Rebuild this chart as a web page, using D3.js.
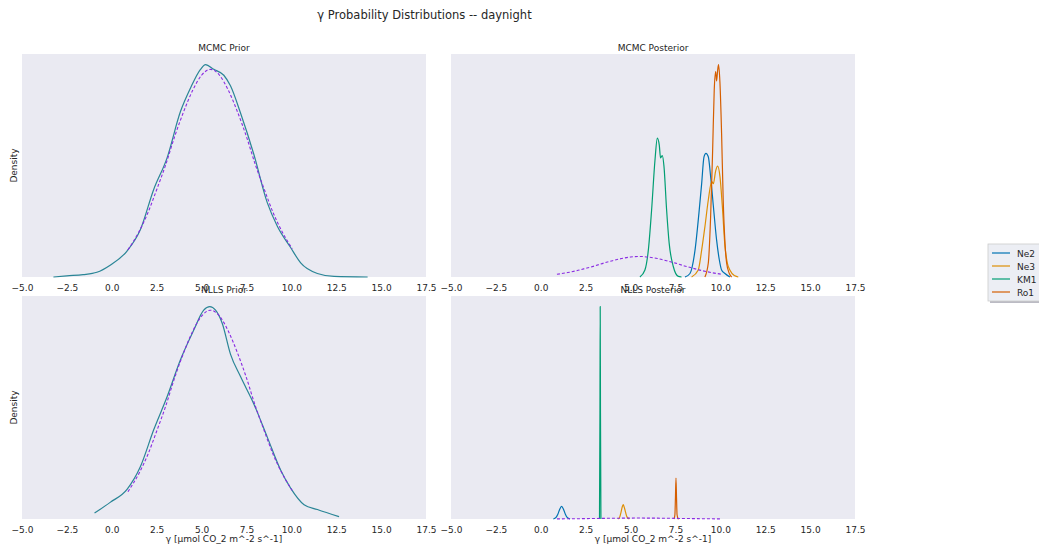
<!DOCTYPE html>
<html>
<head>
<meta charset="utf-8">
<script src="https://cdn.jsdelivr.net/npm/d3@7"></script>
<style>
body { margin: 0; background: #fff; }
text { font-family: "DejaVu Sans", sans-serif; fill: #262626; }
</style>
</head>
<body>
<div id="chart"></div>
<script>
var w = 1039, h = 548

var sites = ["Ne2", "Ne3", "KM1", "Ro1"]
var siteColors = ["#0173b2", "#de8f05", "#029e73", "#d55e00"]
var xTicks = [-5, -2.5, 0, 2.5, 5, 7.5, 10, 12.5, 15, 17.5]

// prior pdf (dashed), same in every panel
var priorPdfX = [0.9, 1.5, 2, 2.5, 3, 3.5, 4, 4.5, 5, 5.5, 6, 6.5, 7, 7.5, 8, 8.5, 9, 9.5, 10.05]
var priorPdfY = [0.023, 0.038, 0.054, 0.074, 0.095, 0.119, 0.140, 0.158, 0.171, 0.176, 0.171, 0.158, 0.140, 0.119, 0.095, 0.074, 0.054, 0.038, 0.024]

// MCMC prior samples kde
var mcmcPriorX = [-3.25, -2.5, -1.6, -0.83, -0.09, 0.85, 1.59, 2.33, 3.08, 3.82, 4.38, 4.94, 5.22, 5.68, 6.24, 6.61, 7.17, 7.91, 8.66, 9.22, 9.96, 10.52, 11.45, 12.38, 14.25]
var mcmcPriorY = [0, 0.001, 0.002, 0.004, 0.010, 0.022, 0.040, 0.074, 0.101, 0.140, 0.160, 0.176, 0.180, 0.176, 0.171, 0.162, 0.139, 0.104, 0.063, 0.043, 0.025, 0.012, 0.003, 0.0005, 0]

// NLLS prior samples kde
var nllsPriorX = [-0.96, -0.09, 0.85, 1.59, 2.33, 3.08, 3.82, 4.56, 5.12, 5.46, 5.78, 6.15, 6.61, 7.17, 7.91, 8.66, 9.41, 9.96, 10.71, 11.45, 12.66]
var nllsPriorY = [0.005, 0.014, 0.025, 0.044, 0.075, 0.103, 0.134, 0.159, 0.176, 0.179, 0.176, 0.165, 0.139, 0.120, 0.097, 0.069, 0.041, 0.026, 0.012, 0.008, 0.002]

// MCMC posterior kde per site
var mcmcNe2X = [8.03, 8.31, 8.59, 8.81, 8.96, 9.09, 9.20, 9.33, 9.46, 9.61, 9.79, 9.94, 10.07, 10.26, 10.53]
var mcmcNe2Y = [0, 0.03, 0.23, 0.55, 0.80, 1.03, 1.06, 1.03, 0.86, 0.61, 0.32, 0.15, 0.06, 0.03, 0]
var mcmcNe3X = [8.40, 8.77, 8.96, 9.14, 9.33, 9.52, 9.61, 9.74, 9.85, 9.98, 10.11, 10.26, 10.39, 10.53, 10.81, 11.0]
var mcmcNe3Y = [0, 0.06, 0.23, 0.43, 0.66, 0.82, 0.80, 0.91, 0.95, 0.86, 0.61, 0.26, 0.12, 0.06, 0.01, 0]
var mcmcKM1X = [5.52, 5.80, 5.99, 6.17, 6.36, 6.49, 6.60, 6.67, 6.77, 6.86, 7.01, 7.15, 7.38, 7.66, 7.84]
var mcmcKM1Y = [0, 0.06, 0.23, 0.57, 1.00, 1.19, 1.13, 1.02, 1.04, 0.95, 0.57, 0.29, 0.09, 0.005, 0]
var mcmcRo1X = [9.14, 9.33, 9.46, 9.57, 9.66, 9.74, 9.79, 9.85, 9.90, 9.98, 10.07, 10.16, 10.26, 10.35, 10.50, 10.63]
var mcmcRo1Y = [0, 0.12, 0.52, 1.08, 1.60, 1.76, 1.68, 1.77, 1.82, 1.66, 1.23, 0.66, 0.29, 0.12, 0.03, 0]

// NLLS posterior kde per site
var nllsNe2X = [0.70, 0.85, 0.95, 1.05, 1.16, 1.27, 1.37, 1.47, 1.63]
var nllsNe2Y = [0, 0.3, 0.9, 1.8, 2.37, 1.8, 0.9, 0.3, 0]
var nllsNe3X = [4.32, 4.40, 4.47, 4.53, 4.59, 4.65, 4.72, 4.80, 4.93]
var nllsNe3Y = [0, 0.4, 1.3, 2.2, 2.69, 2.2, 1.3, 0.4, 0]
var nllsKM1X = [3.27, 3.295, 3.31, 3.325, 3.35]
var nllsKM1Y = [0, 20, 40, 20, 0]
var nllsRo1X = [7.42, 7.47, 7.50, 7.53, 7.56, 7.59, 7.65, 7.68]
var nllsRo1Y = [0, 0.8, 4.0, 7.7, 4.0, 0.8, 0.05, 0]

function zipXY(xs, ys) {
	return xs.map(function(x, i) { return [x, ys[i]] })
}

var panels = [
	{title: "MCMC Prior", left: 22, top: 54, density: true, xlabel: false,
		lines: [{d: zipXY(mcmcPriorX, mcmcPriorY), c: "#2a8596"}]},
	{title: "MCMC Posterior", left: 451, top: 54, density: false, xlabel: false,
		lines: [{d: zipXY(mcmcNe2X, mcmcNe2Y), c: siteColors[0]}, {d: zipXY(mcmcNe3X, mcmcNe3Y), c: siteColors[1]},
			{d: zipXY(mcmcKM1X, mcmcKM1Y), c: siteColors[2]}, {d: zipXY(mcmcRo1X, mcmcRo1Y), c: siteColors[3]}]},
	{title: "NLLS Prior", left: 22, top: 296, density: true, xlabel: true,
		lines: [{d: zipXY(nllsPriorX, nllsPriorY), c: "#2a8596"}]},
	{title: "NLLS Posterior", left: 451, top: 296, density: false, xlabel: true,
		lines: [{d: zipXY(nllsNe2X, nllsNe2Y), c: siteColors[0]}, {d: zipXY(nllsNe3X, nllsNe3Y), c: siteColors[1]},
			{d: zipXY(nllsKM1X, nllsKM1Y), c: siteColors[2]}, {d: zipXY(nllsRo1X, nllsRo1Y), c: siteColors[3]}]}
]
var pw = 404, ph = 223

var svg = d3.select("#chart")
	.append("svg")
	.attr("width", w)
	.attr("height", h)

svg.append("text")
	.attr("x", 424.5)
	.attr("y", 19)
	.attr("text-anchor", "middle")
	.style("font-size", "11.5px")
	.text("γ Probability Distributions -- daynight")

var prior = zipXY(priorPdfX, priorPdfY)

panels.forEach(function(p) {
	var g = svg.append("g").attr("transform", "translate(" + p.left + "," + p.top + ")")

	var x = d3.scaleLinear().domain([-5, 17.5]).range([0, pw])
	var ymax = d3.max(p.lines, function(l) { return d3.max(l.d, function(d) { return d[1] }) })
	var y = d3.scaleLinear().domain([0, ymax * 1.05]).range([ph, 0])

	g.append("rect")
		.attr("width", pw)
		.attr("height", ph)
		.attr("fill", "#eaeaf2")

	var line = d3.line()
		.curve(d3.curveMonotoneX)
		.x(function(d) { return x(d[0]) })
		.y(function(d) { return y(d[1]) })

	g.selectAll(".kde")
		.data(p.lines)
		.enter()
		.append("path")
		.attr("d", function(l) { return line(l.d) })
		.attr("fill", "none")
		.attr("stroke", function(l) { return l.c })
		.attr("stroke-width", 1.2)

	g.append("path")
		.attr("d", line(prior))
		.attr("fill", "none")
		.attr("stroke", "#8a2be2")
		.attr("stroke-width", 1.1)
		.attr("stroke-dasharray", "3,2")

	var xAxis = d3.axisBottom(x)
		.tickValues(xTicks)
		.tickSize(0)
		.tickPadding(8)
		.tickFormat(function(d) { return d3.format(".1f")(d).replace("-", "−") })

	var ax = g.append("g")
		.attr("transform", "translate(0," + ph + ")")
		.call(xAxis)
	ax.select(".domain").remove()
	ax.selectAll("text")
		.style("font-size", "9px")
		.style("font-family", "DejaVu Sans, sans-serif")
		.attr("fill", "#262626")

	g.append("text")
		.attr("x", pw / 2)
		.attr("y", -3.5)
		.attr("text-anchor", "middle")
		.style("font-size", "9px")
		.text(p.title)

	if (p.density) {
		g.append("text")
			.attr("transform", "translate(-5," + (ph / 2) + ") rotate(-90)")
			.attr("text-anchor", "middle")
			.style("font-size", "9px")
			.text("Density")
	}
	if (p.xlabel) {
		g.append("text")
			.attr("x", pw / 2)
			.attr("y", ph + 23)
			.attr("text-anchor", "middle")
			.style("font-size", "9px")
			.text("γ [μmol CO_2 m^-2 s^-1]")
	}
})

// legend
var lg = svg.append("g").attr("transform", "translate(988,244)")
lg.append("rect")
	.attr("x", 2).attr("y", 2)
	.attr("width", 60).attr("height", 57)
	.attr("fill", "#bbbbc4")
lg.append("rect")
	.attr("width", 60).attr("height", 57)
	.attr("fill", "#eceef4")
	.attr("stroke", "#cccccc")
	.attr("stroke-width", 0.8)

var items = lg.selectAll(".item")
	.data(sites)
	.enter()
	.append("g")
	.attr("transform", function(d, i) { return "translate(0," + (9 + i * 13) + ")" })

items.append("line")
	.attr("x1", 4).attr("x2", 22)
	.attr("stroke", function(d, i) { return siteColors[i] })
	.attr("stroke-width", 1.2)

items.append("text")
	.attr("x", 29)
	.attr("y", 3.5)
	.style("font-size", "9px")
	.text(function(d) { return d })
</script>
</body>
</html>
